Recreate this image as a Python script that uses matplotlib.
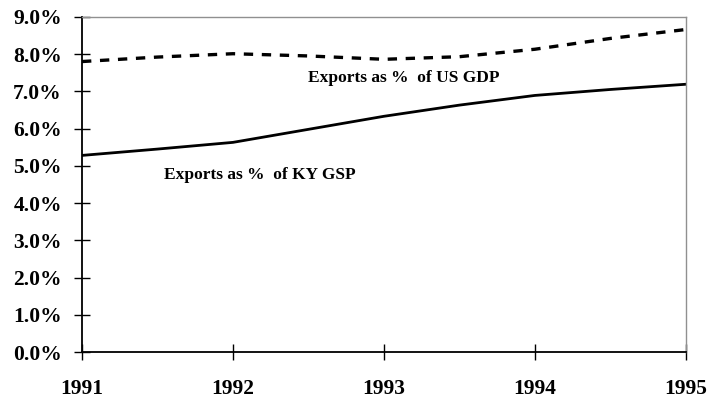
import numpy as np
import matplotlib.pyplot as plt
from matplotlib.ticker import PercentFormatter

# values at half-year steps
years = [1991, 1991.5, 1992, 1992.5, 1993, 1993.5, 1994, 1994.5, 1995]
ky_gsp = [5.28, 5.45, 5.63, 5.98, 6.33, 6.63, 6.89, 7.05, 7.19]
us_gdp = [7.80, 7.92, 8.01, 7.95, 7.86, 7.93, 8.13, 8.42, 8.66]
year_ticks = [1991, 1992, 1993, 1994, 1995]

plt.rcParams['font.family'] = ['Liberation Serif', 'DejaVu Serif']
plt.rcParams['font.weight'] = 'bold'

fig = plt.figure(figsize=(7.07, 4.01), dpi=100)
ax = fig.add_axes([0.116, 0.122, 0.854, 0.836])

ax.plot(years, us_gdp, color='black', lw=2.4, dashes=(2.8, 2.6))
ax.plot(years, ky_gsp, color='black', lw=2.0)

ax.text(1993.13, 7.36, 'Exports as %  of US GDP', ha='center', va='center',
        fontsize=12.5, fontweight='bold')
ax.text(1992.18, 4.75, 'Exports as %  of KY GSP', ha='center', va='center',
        fontsize=12.5, fontweight='bold')

ax.set_xlim(1991, 1995)
ax.set_ylim(0, 9)
ax.set_xticks(year_ticks)
ax.set_yticks(np.arange(0, 10, 1))
ax.yaxis.set_major_formatter(PercentFormatter(decimals=1))

for s in ['top', 'right']:
    ax.spines[s].set_color('#909090')
    ax.spines[s].set_linewidth(1.0)
for s in ['left', 'bottom']:
    ax.spines[s].set_color('black')
    ax.spines[s].set_linewidth(1.3)

ax.tick_params(axis='both', direction='inout', length=11, width=1.0, labelsize=15.5)
ax.tick_params(axis='y', pad=9)
ax.tick_params(axis='x', pad=14)

fig.savefig('out.png', dpi=100)
